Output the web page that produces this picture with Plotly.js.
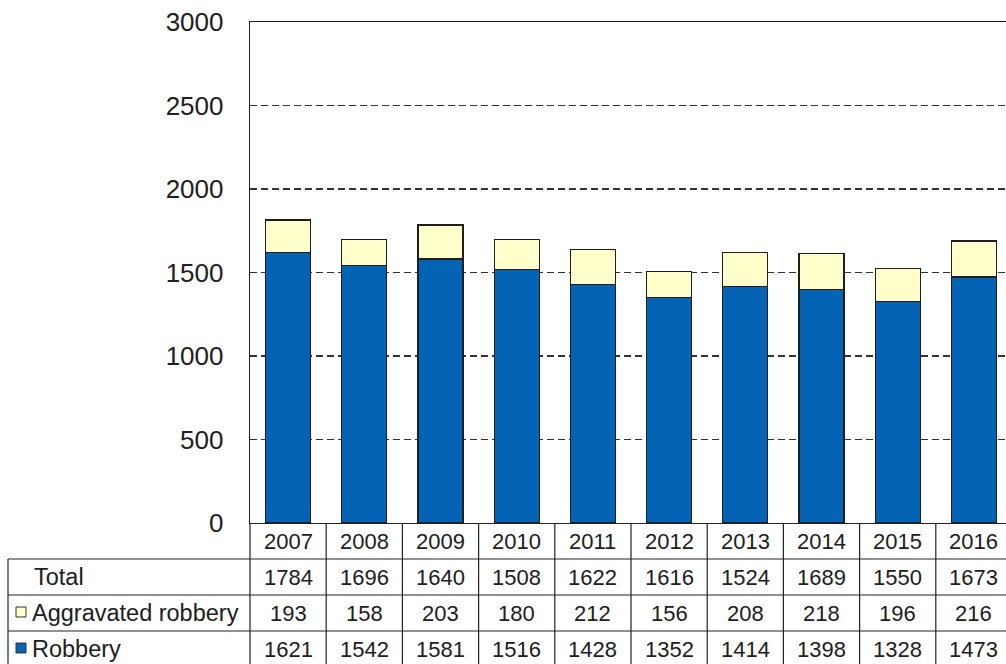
<!DOCTYPE html>
<html>
<head>
<meta charset="utf-8">
<script src="https://cdn.plot.ly/plotly-3.0.1.min.js"></script>
<style>html,body{margin:0;padding:0;background:#fff;}#chart{width:1006px;height:664px;}</style>
</head>
<body>
<div id="chart"></div>
<script>
const years = ['2007','2008','2009','2010','2011','2012','2013','2014','2015','2016'];
const robbery = [1621,1542,1581,1516,1428,1352,1414,1398,1328,1473];
const aggravated = [193,158,203,180,212,156,208,218,196,216];
const totalRow = [1784,1696,1640,1508,1622,1616,1524,1689,1550,1673];
const rowLabels = ['Total','Aggravated robbery','Robbery'];

const W = 1006, H = 664;
const mL = 250, mR = 0, mT = 22, mB = 141;
const plotW = W - mL - mR, plotH = H - mT - mB;
const catPx = 76.2;
const xMax = -0.5 + plotW / catPx;
const py = p => (H - mB - p) / plotH;     // pixel y -> paper y
const px = p => (p - mL) / plotW;         // pixel x -> paper x

const BLUE = '#0563B5', CREAM = '#FFFFCC', EDGE = '#1e1e1e', TXT = '#202020';
const FONT = 'Liberation Sans, Arial, sans-serif';

const traces = [
  {type:'bar', name:'Robbery', x: years.map((_,i)=>i), y: robbery,
   marker:{color:BLUE, line:{color:EDGE, width:1.2}}, hoverinfo:'y'},
  {type:'bar', name:'Aggravated robbery', x: years.map((_,i)=>i), y: aggravated,
   marker:{color:CREAM, line:{color:EDGE, width:1.2}}, hoverinfo:'y'}
];

const shapes = [];
const annotations = [];
const lineStyle = {color:'#222', width:1.2};
const rowTop = [523, 559, 595, 631, 667];
for (let r = 1; r < rowTop.length; r++) {
  shapes.push({type:'line', xref:'paper', yref:'paper', x0:px(8), x1:1.02, y0:py(rowTop[r]), y1:py(rowTop[r]), line:lineStyle});
}
shapes.push({type:'line', xref:'paper', yref:'paper', x0:px(8), x1:px(8), y0:py(559), y1:py(667), line:lineStyle});
shapes.push({type:'line', xref:'paper', yref:'paper', x0:0, x1:0, y0:py(523), y1:py(667), line:lineStyle});
for (let i = 1; i < years.length + 1; i++) {
  shapes.push({type:'line', xref:'x', yref:'paper', x0:i-0.5, x1:i-0.5, y0:py(523), y1:py(667), line:lineStyle});
}
const markers = [[CREAM, 612], [BLUE, 648]];
markers.forEach(([c, cy]) => {
  shapes.push({type:'rect', xref:'paper', yref:'paper', x0:px(16), x1:px(26), y0:py(cy-5), y1:py(cy+5),
    fillcolor:c, line:{color:'#333', width:1}});
});

const rowCenters = [541, 577, 613, 649];
const tfont = {family:FONT, size:22, color:TXT};
const lfont = {family:FONT, size:23.5, color:TXT};
years.forEach((y, i) => {
  annotations.push({xref:'x', yref:'paper', x:i, y:py(rowCenters[0]), text:y, showarrow:false, xanchor:'center', yanchor:'middle', font:tfont});
  annotations.push({xref:'x', yref:'paper', x:i, y:py(rowCenters[1]), text:String(totalRow[i]), showarrow:false, xanchor:'center', yanchor:'middle', font:tfont});
  annotations.push({xref:'x', yref:'paper', x:i, y:py(rowCenters[2]), text:String(aggravated[i]), showarrow:false, xanchor:'center', yanchor:'middle', font:tfont});
  annotations.push({xref:'x', yref:'paper', x:i, y:py(rowCenters[3]), text:String(robbery[i]), showarrow:false, xanchor:'center', yanchor:'middle', font:tfont});
});
annotations.push({xref:'paper', yref:'paper', x:px(32), y:py(rowCenters[1]), text:rowLabels[0], showarrow:false, xanchor:'left', yanchor:'middle', font:lfont});
annotations.push({xref:'paper', yref:'paper', x:px(30), y:py(rowCenters[2]), text:rowLabels[1], showarrow:false, xanchor:'left', yanchor:'middle', font:lfont});
annotations.push({xref:'paper', yref:'paper', x:px(30), y:py(rowCenters[3]), text:rowLabels[2], showarrow:false, xanchor:'left', yanchor:'middle', font:lfont});

const layout = {
  width: W, height: H,
  margin: {l:mL, r:mR, t:mT, b:mB, pad:0},
  paper_bgcolor:'#fff', plot_bgcolor:'#fff',
  showlegend:false,
  barmode:'stack', bargap:0.41,
  font:{family:FONT, color:TXT},
  xaxis:{range:[-0.5, xMax], showticklabels:false, ticks:'', showgrid:false, zeroline:false,
    showline:true, linecolor:'#222', linewidth:1.3, mirror:true, fixedrange:true},
  yaxis:{range:[0,3000], dtick:500, tick0:0, showgrid:true, gridcolor:'#333', gridwidth:1.4, griddash:'7px,4px',
    zeroline:false, showline:true, linecolor:'#222', linewidth:1.3, mirror:true,
    ticks:'outside', ticklen:20, tickcolor:'rgba(0,0,0,0)',
    tickfont:{family:FONT, size:26, color:TXT}, fixedrange:true},
  shapes: shapes,
  annotations: annotations
};

Plotly.newPlot('chart', traces, layout, {displayModeBar:false, staticPlot:true});
</script>
</body>
</html>
